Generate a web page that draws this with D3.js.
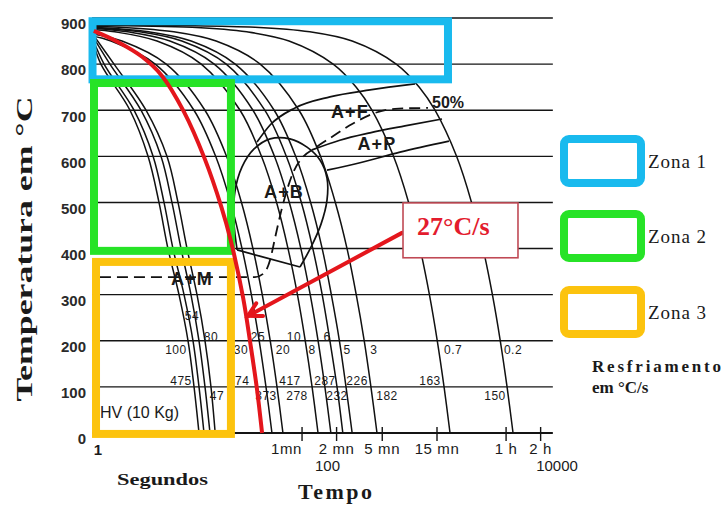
<!DOCTYPE html>
<html>
<head>
<meta charset="utf-8">
<script src="https://cdn.jsdelivr.net/npm/d3@7/dist/d3.min.js"></script>
<style>
  html, body { margin: 0; padding: 0; background: #fff; }
  svg { display: block; }
</style>
</head>
<body>
<svg id="cct" width="725" height="506"></svg>
<script>
// ---------------- data ----------------
const tempTicks = [0, 100, 200, 300, 400, 500, 600, 700, 800, 900];
const secondTicks = [1, 100, 10000];
const clockTickTimes = [60, 120, 300, 900, 3600, 7200];
const clockTickLabels = ["1mn", "2 mn", "5 mn", "15 mn", "1 h", "2 h"];

// continuous cooling curves, points as [time (s), temperature (°C)]
const curve1 = [[0.9,850],[1.06,800],[1.90,700],[2.73,600],[3.40,500],[4.07,400],[5.08,300],[6.09,200],[6.87,100],[7.59,0]];
const curve2 = [[0.9,855],[1.13,800],[2.06,700],[3.02,600],[3.76,500],[4.50,400],[5.62,300],[6.73,200],[7.59,100],[8.39,0]];
const curve3 = [[0.9,860],[1.27,800],[2.37,700],[3.54,600],[4.41,500],[5.29,400],[6.46,300],[7.59,200],[8.56,100],[9.46,0]];
const curve4 = [[0.9,865],[1.38,800],[2.62,700],[3.99,600],[4.98,500],[5.97,400],[7.29,300],[8.56,200],[9.65,100],[10.5,0]];
const curve5 = [[0.887,861],[1.30,850],[3.15,800],[6.86,700],[10.6,600],[14.3,500],[18.0,400],[21.7,300],[25.4,200],[29.1,100],[32.8,0]];
const curve6 = [[0.887,866],[1.62,850],[3.93,800],[8.55,700],[13.2,600],[17.8,500],[22.4,400],[27.0,300],[31.7,200],[36.3,100],[40.9,0]];
const curve7 = [[0.887,875],[1.40,870],[3.27,850],[7.94,800],[17.3,700],[26.6,600],[36.0,500],[45.3,400],[54.7,300],[64.0,200],[73.4,100],[82.7,0]];
const curve8 = [[0.887,878],[1.81,870],[4.23,850],[10.3,800],[22.4,700],[34.5,600],[46.5,500],[58.6,400],[70.7,300],[82.8,200],[94.9,100],[107,0]];
const curve9 = [[0.887,879],[2.31,870],[5.38,850],[13.1,800],[28.4,700],[43.8,600],[59.2,500],[74.5,400],[89.9,300],[105,200],[121,100],[136,0]];
const curve10 = [[0.887,880],[2.78,870],[6.49,850],[15.7,800],[34.3,700],[52.8,600],[71.3,500],[89.9,400],[108,300],[127,200],[145,100],[164,0]];
const curve11 = [[0.887,882],[1.53,880],[4.58,870],[10.7,850],[25.9,800],[56.4,700],[86.9,600],[117,500],[148,400],[178,300],[209,200],[239,100],[270,0]];
const curve12 = [[0.887,884],[6.60,880],[19.8,870],[46.2,850],[112,800],[178,750],[244,700],[376,600],[509,500],[641,400],[773,300],[905,200],[1037,100],[1169,0]];
const curve13 = [[0.887,885],[23.4,880],[70.2,870],[164,850],[397,800],[631,750],[865,700],[1333,600],[1800,500],[2268,400],[2736,300],[3204,200],[3671,100],[4139,0]];
const coolingCurves = [curve1, curve2, curve3, curve4, curve5, curve6, curve7,
                       curve8, curve9, curve10, curve11, curve12, curve13];

// highlighted cooling curve
const redCurve = [[0.92,872],[1.49,848],[2.42,816],[3.6,775],[5.6,697],[8.5,595],[11.9,490],[14.3,419],[18.4,293],[21.3,193],[24.2,98],[26.9,0]];
const redRateLabel = "27°C/s";
const redArrow = [[446,434],[20.3,254]];          // tail, tip
const redLabelBox = [455, 4571, 380, 499];          // t0, t1, T low, T high
const redLabelAt = [1250, 442];

// cooling rates (°C/s): [text, time, temperature]
const rateLabels = [["100",4.78,178],["80",9.65,206],["54",6.60,252],["30",17.6,178],["25",24.8,206],
                    ["20",40.9,178],["10",51.1,206],["8",73.3,178],["6",99,206],["5",148,178],
                    ["3",254,178],["0.7",1242,178],["0.2",4139,178]];
// hardness HV (10 Kg): [text, time, temperature]
const hardnessLabels = [["475",5.29,110],["47",10.9,79],["374",16.8,110],["373",29.1,79],["417",47.1,110],
                        ["278",54.2,79],["287",95.1,110],["232",121,79],["226",181,110],["182",330,79],
                        ["163",782,110],["150",2884,79]];

// transformation boundaries
const ferriteStart = [[24.3,631],[31.6,668],[52.1,705],[105,729],[235,744],[579,757]];
const pearliteUpper = [[73.3,614],[128,635],[235,651],[473,666],[995,681]];
const pearliteLower = [[99,570],[192,586],[428,609],[1145,633]];
const bainiteNose = [[16.3,397],[15.3,458],[15.6,523],[18.0,577],[22.9,616],[31.6,638],[47.1,638],[66.3,620],
                     [86.0,592],[99.0,553],[99.0,505],[87.8,453],[71.8,403],[57.6,360]];
const bainiteBase = [[57.6,360],[16.3,397]];
const martensiteAnd50 = [[1.04,338],[23.3,338],[28.0,347],[31.6,375],[34.9,423],[39.3,479],[43.5,520],[50.0,564],
                         [59.9,596],[77.8,618],[109,642],[164,670],[259,694],[387,703],[751,705]];
const fiftyLabel = ["50%", 814, 713];
const phaseLabels = [["A+F",157,694],["A+P",270,625],["A+B",41.8,520],["A+M",6.59,332]];
const hvLabel = ["HV (10 Kg)", 1.04, 41];

// highlighted zones: [t start, t end, T low, T high]
const zoneNames = ["Zona 1", "Zona 2", "Zona 3"];
const zoneColors = ["#19baee", "#27e327", "#fcc30e"];
const zoneSpans = [[0.896,1122,767,893],[0.923,14.4,395,759],[0.961,14.4,-2,371]];

// ---------------- drawing ----------------
const svg = d3.select("#cct");
const x = d3.scaleLog().domain([1, 10000]).range([98, 557]);
const y = d3.scaleLinear().domain([0, 900]).range([433, 18]);
const tSpan = [0.887, 9200];
const sans = "'Liberation Sans', Arial, sans-serif";
const serif = "'Liberation Serif', 'Times New Roman', serif";

const smooth = d3.line().x(d => x(d[0])).y(d => y(d[1])).curve(d3.curveCatmullRom.alpha(0.5));
const line = d3.line().x(d => x(d[0])).y(d => y(d[1])).curve(d3.curveMonotoneX);
const straight = d3.line().x(d => x(d[0])).y(d => y(d[1]));

// temperature gridlines and time baseline
svg.append("g").selectAll("line").data(tempTicks).join("line")
  .attr("x1", x(tSpan[0])).attr("x2", x(tSpan[1]))
  .attr("y1", d => y(d)).attr("y2", d => y(d))
  .attr("stroke", "#141414").attr("stroke-width", d => d === 0 ? 2 : 1.4);

// temperature labels
svg.append("g").attr("transform", `translate(${x(tSpan[0]) - 6},6)`)
  .call(d3.axisLeft(y).tickValues(tempTicks).tickSize(0).tickPadding(0).tickFormat(d3.format("d")))
  .call(g => g.select(".domain").remove())
  .selectAll("text")
  .attr("font-family", sans).attr("font-size", 15).attr("font-weight", "bold").attr("fill", "#2a2a2a");

// clock-time ticks on the baseline
svg.append("g").selectAll("line").data(clockTickTimes).join("line")
  .attr("x1", d => x(d)).attr("x2", d => x(d))
  .attr("y1", y(0) - 6).attr("y2", y(0) + 8)
  .attr("stroke", "#141414").attr("stroke-width", 1.4);

svg.append("g").selectAll("text").data(clockTickTimes).join("text")
  .attr("x", d => x(d)).attr("y", y(0) + 21)
  .attr("text-anchor", (d, i) => i === 0 ? "end" : "middle")
  .attr("font-family", sans).attr("font-size", 15).attr("letter-spacing", 0.6).attr("fill", "#1a1a1a")
  .text((d, i) => clockTickLabels[i]);

svg.append("g").selectAll("text").data(secondTicks).join("text")
  .attr("x", d => x(d)).attr("y", d => d === 1 ? y(0) + 22 : y(0) + 38)
  .attr("text-anchor", "middle")
  .attr("font-family", sans).attr("font-size", 15)
  .attr("font-weight", d => d === 1 ? "bold" : "normal").attr("fill", "#1a1a1a")
  .text(d => d3.format("d")(d));

// cooling curves
svg.append("g").selectAll("path").data(coolingCurves).join("path")
  .attr("d", smooth).attr("fill", "none").attr("stroke", "#111").attr("stroke-width", 1.5);

// transformation boundaries
const bounds = svg.append("g").attr("fill", "none").attr("stroke", "#111").attr("stroke-width", 1.7);
bounds.append("path").attr("d", line(ferriteStart));
bounds.append("path").attr("d", line(pearliteUpper));
bounds.append("path").attr("d", line(pearliteLower));
bounds.append("path").attr("d", smooth(bainiteNose));
bounds.append("path").attr("d", straight(bainiteBase));
bounds.append("path").attr("d", line(martensiteAnd50)).attr("stroke-dasharray", "11,6").attr("stroke-width", 1.8);

// phase field labels
svg.append("g").selectAll("text").data(phaseLabels).join("text")
  .attr("x", d => x(d[1])).attr("y", d => y(d[2]))
  .attr("text-anchor", "middle").attr("dominant-baseline", "middle")
  .attr("font-family", sans).attr("font-size", 18).attr("font-weight", "bold")
  .attr("letter-spacing", 1.2).attr("fill", "#1a1a1a")
  .text(d => d[0]);

svg.append("text").attr("x", x(fiftyLabel[1])).attr("y", y(fiftyLabel[2]))
  .attr("dominant-baseline", "middle")
  .attr("font-family", sans).attr("font-size", 16).attr("font-weight", "bold").attr("fill", "#1a1a1a")
  .text(fiftyLabel[0]);

// cooling rate and hardness labels
svg.append("g").selectAll("text").data(rateLabels.concat(hardnessLabels)).join("text")
  .attr("x", d => x(d[1])).attr("y", d => y(d[2]))
  .attr("text-anchor", "middle").attr("dominant-baseline", "middle")
  .attr("font-family", sans).attr("font-size", 12).attr("letter-spacing", 0.5).attr("fill", "#1a1a1a")
  .text(d => d[0]);

svg.append("text").attr("x", x(hvLabel[1])).attr("y", y(hvLabel[2]))
  .attr("dominant-baseline", "middle")
  .attr("font-family", sans).attr("font-size", 16).attr("fill", "#1a1a1a")
  .text(hvLabel[0]);

// highlighted zones
svg.append("g").selectAll("rect").data(zoneSpans).join("rect")
  .attr("x", d => x(d[0])).attr("width", d => x(d[1]) - x(d[0]))
  .attr("y", d => y(d[3])).attr("height", d => y(d[2]) - y(d[3]))
  .attr("fill", "none").attr("stroke", (d, i) => zoneColors[i]).attr("stroke-width", 8);

// highlighted cooling curve with its rate callout
svg.append("path").attr("d", smooth(redCurve))
  .attr("fill", "none").attr("stroke", "#e4161c").attr("stroke-width", 4);

const tail = [x(redArrow[0][0]), y(redArrow[0][1])];
const tip = [x(redArrow[1][0]), y(redArrow[1][1])];
const ang = Math.atan2(tail[1] - tip[1], tail[0] - tip[0]);
const wing = a => [tip[0] + 15 * Math.cos(ang + a), tip[1] + 15 * Math.sin(ang + a)];
const arrow = svg.append("g").attr("fill", "none").attr("stroke", "#e4161c")
  .attr("stroke-width", 4).attr("stroke-linecap", "round");
arrow.append("path").attr("d", d3.line()([tail, tip]));
arrow.append("path").attr("d", d3.line()([wing(0.5), tip, wing(-0.5)]));

svg.append("rect")
  .attr("x", x(redLabelBox[0])).attr("width", x(redLabelBox[1]) - x(redLabelBox[0]))
  .attr("y", y(redLabelBox[3])).attr("height", y(redLabelBox[2]) - y(redLabelBox[3]))
  .attr("fill", "#fff").attr("stroke", "#c04a55").attr("stroke-width", 1.6);
svg.append("text").attr("x", x(redLabelAt[0])).attr("y", y(redLabelAt[1]))
  .attr("text-anchor", "middle").attr("dominant-baseline", "middle")
  .attr("font-family", serif).attr("font-size", 26).attr("font-weight", "bold").attr("fill", "#e31b2d")
  .text(redRateLabel);

// axis titles
svg.append("text")
  .attr("transform", "translate(32,249) rotate(-90)")
  .attr("text-anchor", "middle")
  .attr("font-family", serif).attr("font-size", 24).attr("font-weight", "bold").attr("fill", "#1a1a1a")
  .attr("textLength", 305).attr("lengthAdjust", "spacingAndGlyphs")
  .text("Temperatura em °C");

svg.append("text").attr("x", 117).attr("y", 485)
  .attr("font-family", serif).attr("font-size", 16).attr("font-weight", "bold").attr("fill", "#1a1a1a")
  .attr("textLength", 91).attr("lengthAdjust", "spacingAndGlyphs")
  .text("Segundos");

svg.append("text").attr("x", 298).attr("y", 499)
  .attr("font-family", serif).attr("font-size", 22).attr("font-weight", "bold").attr("fill", "#1a1a1a")
  .attr("textLength", 74).attr("lengthAdjust", "spacing")
  .text("Tempo");

// legend
const legend = svg.append("g");
const legendTop = [139, 214, 290];
legend.selectAll("rect").data(zoneNames).join("rect")
  .attr("x", 564).attr("width", 77)
  .attr("y", (d, i) => legendTop[i]).attr("height", 44)
  .attr("rx", 5).attr("fill", "none")
  .attr("stroke", (d, i) => zoneColors[i]).attr("stroke-width", 8);
legend.selectAll("text").data(zoneNames).join("text")
  .attr("x", 648).attr("y", (d, i) => legendTop[i] + 29)
  .attr("font-family", serif).attr("font-size", 19).attr("fill", "#1a1a1a")
  .attr("textLength", 58).attr("lengthAdjust", "spacing")
  .text(d => d);

legend.append("text").attr("x", 592).attr("y", 372)
  .attr("font-family", serif).attr("font-size", 17).attr("font-weight", "bold").attr("fill", "#1a1a1a")
  .attr("textLength", 129).attr("lengthAdjust", "spacing")
  .text("Resfriamento");
legend.append("text").attr("x", 592).attr("y", 393)
  .attr("font-family", serif).attr("font-size", 17).attr("font-weight", "bold").attr("fill", "#1a1a1a")
  .text("em °C/s");
</script>
</body>
</html>
